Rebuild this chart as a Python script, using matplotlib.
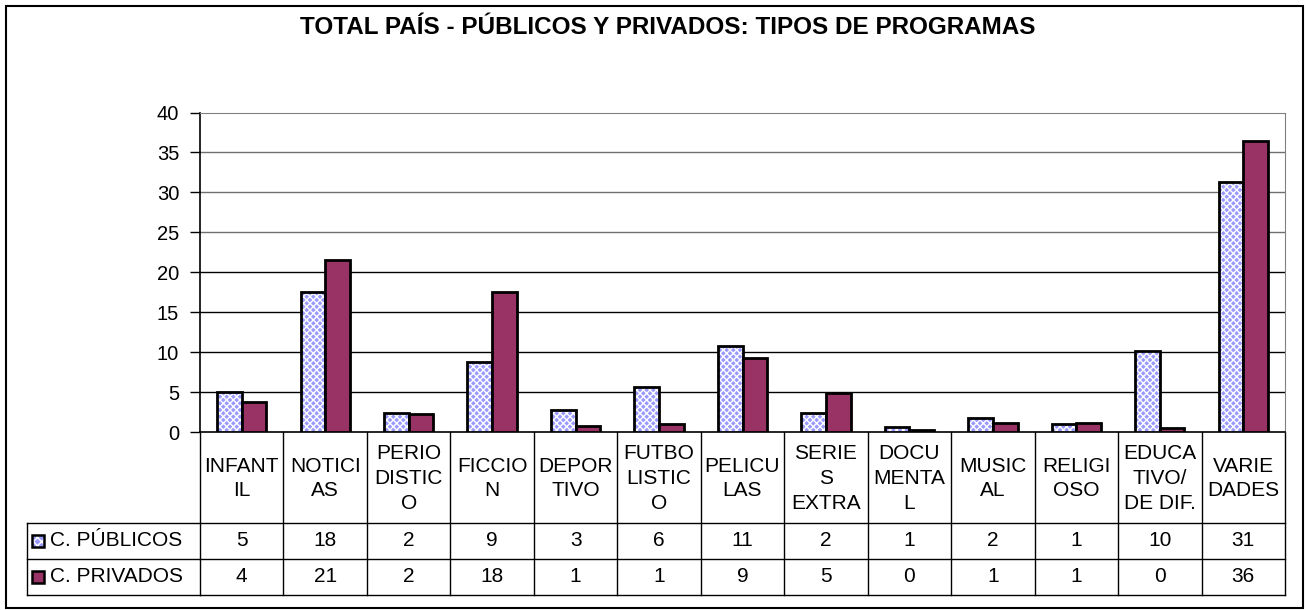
import numpy as np
import matplotlib.pyplot as plt
from matplotlib.transforms import blended_transform_factory
from matplotlib.patches import Rectangle

plt.rcParams['font.family'] = ['Liberation Sans', 'DejaVu Sans']
plt.rcParams['hatch.linewidth'] = 1.0

# datos
categorias = ['INFANT\nIL', 'NOTICI\nAS', 'PERIO\nDISTIC\nO', 'FICCIO\nN', 'DEPOR\nTIVO',
              'FUTBO\nLISTIC\nO', 'PELICU\nLAS', 'SERIE\nS\nEXTRA', 'DOCU\nMENTA\nL',
              'MUSIC\nAL', 'RELIGI\nOSO', 'EDUCA\nTIVO/\nDE DIF.', 'VARIE\nDADES']
publicos = [5.0, 17.5, 2.4, 8.8, 2.7, 5.6, 10.8, 2.4, 0.6, 1.7, 0.95, 10.2, 31.35]
privados = [3.7, 21.5, 2.2, 17.5, 0.75, 1.0, 9.3, 4.9, 0.25, 1.1, 1.1, 0.45, 36.4]
tabla_publicos = ['5', '18', '2', '9', '3', '6', '11', '2', '1', '2', '1', '10', '31']
tabla_privados = ['4', '21', '2', '18', '1', '1', '9', '5', '0', '1', '1', '0', '36']
series = ['C. PÚBLICOS', 'C. PRIVADOS']
titulo = 'TOTAL PAÍS - PÚBLICOS Y PRIVADOS: TIPOS DE PROGRAMAS'

W, H = 1306, 610
fig = plt.figure(figsize=(W / 100, H / 100), dpi=100)


def fy(y):
    # pixel (desde arriba) -> fraccion de figura
    return 1 - y / H


# borde exterior
fig.patches.append(Rectangle((6 / W, fy(608)), 1297 / W, 602 / H, transform=fig.transFigure,
                             fill=False, edgecolor='black', linewidth=1.5))

fig.text(668 / W, fy(27), titulo, ha='center', va='center', fontsize=17.5, fontweight='bold')

ax = fig.add_axes([200 / W, fy(432), 1085 / W, (432 - 112.5) / H])
x = np.arange(len(categorias))
w = 0.295

# barras publicos: relleno a cuadros
ax.bar(x - w / 2, publicos, w, color='#9999ff', edgecolor='white', hatch='xxxxx',
       linewidth=0, zorder=3)
ax.bar(x - w / 2, publicos, w, fill=False, edgecolor='black', linewidth=2, zorder=4)
ax.bar(x + w / 2, privados, w, color='#993366', edgecolor='black', linewidth=2, zorder=4)

ax.set_xlim(-0.5, len(categorias) - 0.5)
ax.set_ylim(0, 40)
ax.set_yticks(range(0, 45, 5))
ax.tick_params(axis='y', length=7, width=1, labelsize=14.5, pad=8)
ax.set_xticks([])
for v in range(5, 40, 5):
    ax.axhline(v, color='black' if v <= 20 else '#707070', linewidth=1, zorder=1)
for s in ['top', 'right']:
    ax.spines[s].set_color('#808080')
ax.spines['left'].set_linewidth(1.2)
ax.spines['bottom'].set_linewidth(1.2)

# tabla de datos bajo el grafico
tr = blended_transform_factory(ax.transData, fig.transFigure)
y_cab, y_f1, y_f2, y_fin = 432, 523, 559, 595
n = len(categorias)
for i in range(n + 1):
    ax.plot([i - 0.5, i - 0.5], [fy(y_cab), fy(y_fin)], transform=tr, color='black',
            linewidth=1, clip_on=False)
for yy in [y_f1, y_f2, y_fin]:
    ax.plot([-0.5, n - 0.5], [fy(yy), fy(yy)], transform=tr, color='black',
            linewidth=1, clip_on=False)
for i in range(n):
    ax.text(i, fy((y_cab + y_f1) / 2 + 1), categorias[i], transform=tr, ha='center', va='center',
            fontsize=15, linespacing=1.4)
    ax.text(i, fy((y_f1 + y_f2) / 2), tabla_publicos[i], transform=tr, ha='center',
            va='center', fontsize=15)
    ax.text(i, fy((y_f2 + y_fin) / 2), tabla_privados[i], transform=tr, ha='center',
            va='center', fontsize=15)

# columna de leyenda
for yy in [y_f1, y_f2, y_fin]:
    fig.add_artist(plt.Line2D([27 / W, 200 / W], [fy(yy), fy(yy)], color='black', linewidth=1))
fig.add_artist(plt.Line2D([27 / W, 27 / W], [fy(y_f1), fy(y_fin)], color='black', linewidth=1))

for k, (y0, y1) in enumerate([(y_f1, y_f2), (y_f2, y_fin)]):
    yc = (y0 + y1) / 2
    if k == 0:
        fig.patches.append(Rectangle((32 / W, fy(yc + 6)), 12 / W, 12 / H, transform=fig.transFigure,
                                     facecolor='#9999ff', edgecolor='white', hatch='xxxx',
                                     linewidth=0))
        fig.patches.append(Rectangle((32 / W, fy(yc + 6)), 12 / W, 12 / H, transform=fig.transFigure,
                                     fill=False, edgecolor='black', linewidth=1.8))
    else:
        fig.patches.append(Rectangle((32 / W, fy(yc + 6)), 12 / W, 12 / H, transform=fig.transFigure,
                                     facecolor='#993366', edgecolor='black', linewidth=1.8))
    fig.text(50 / W, fy(yc), series[k], ha='left', va='center', fontsize=15)

fig.savefig('out.png', dpi=100)
